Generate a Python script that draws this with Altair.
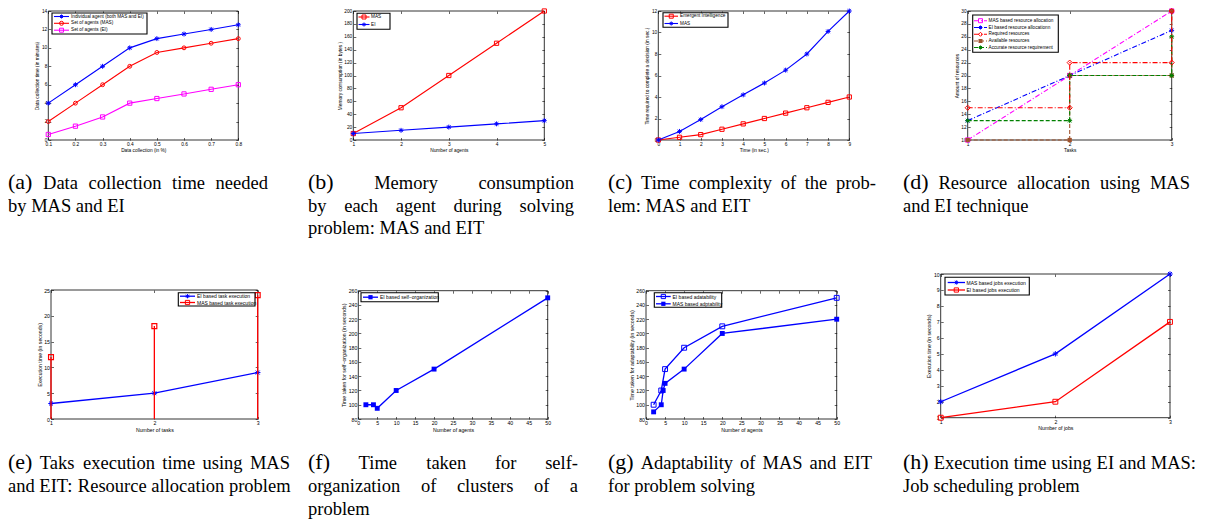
import altair as alt
import pandas as pd

# ---------------- data ----------------
a_x = [0.1, 0.2, 0.3, 0.4, 0.5, 0.6, 0.7, 0.8]
a_individual = [4, 6, 8, 10, 11, 11.5, 12, 12.5]
a_mas = [2, 4, 6, 8, 9.5, 10, 10.5, 11]
a_ei = [0.6, 1.5, 2.5, 4, 4.5, 5, 5.5, 6]
a_labels = ["Individual agent (both MAS and EI)", "Set of agents (MAS)", "Set of agents (EI)"]

b_x = [1, 2, 3, 4, 5]
b_mas = [10, 50, 100, 150, 200]
b_ei = [10, 15, 20, 25, 30]
b_labels = ["MAS", "EI"]

c_x = [0, 1, 2, 3, 4, 5, 6, 7, 8, 9]
c_ei = [0, 0.25, 0.5, 1, 1.5, 2, 2.5, 3, 3.5, 4]
c_mas = [0, 0.8, 1.9, 3.1, 4.2, 5.3, 6.5, 8, 10.1, 12]
c_labels = ["Emergent Intelligence", "MAS"]

d_x = [1, 2, 3]
d_mas = [10, 20, 30]
d_ei = [13, 20, 27]
d_required = [15, 22, 30]
d_available = [10, 20, 30]
d_accurate = [13, 20, 26]
d_labels = ["MAS based resource allocation", "EI based resource allocationn",
            "Required resources", "Available resources", "Accurate resource requirement"]

e_x = [1, 2, 3]
e_ei = [3, 5, 9]
e_mas = [12, 18, 24]
e_labels = ["EI based task execution", "MAS based task execution"]

f_x = [2, 4, 5, 10, 20, 50]
f_ei = [100, 100, 95, 120, 150, 250]
f_labels = ["EI based self\u2212organization"]

g_ei_x = [2, 4, 5, 10, 20, 50]
g_ei = [100, 120, 150, 180, 210, 250]
g_mas_x = [2, 4, 4.5, 5, 10, 20, 50]
g_mas = [90, 100, 120, 130, 150, 200, 220]
g_labels = ["EI based adatability", "MAS based adptability"]

h_x = [1, 2, 3]
h_mas = [2, 5, 10]
h_ei = [1, 2, 7]
h_labels = ["MAS based jobs execution", "EI based jobs execution"]

captions = {
    "a": ["(a) Data collection time needed", "by MAS and EI"],
    "b": ["(b) Memory consumption", "by each agent during solving", "problem: MAS and EIT"],
    "c": ["(c) Time complexity of the prob-", "lem: MAS and EIT"],
    "d": ["(d) Resource allocation using MAS", "and EI technique"],
    "e": ["(e) Taks execution time using MAS", "and EIT: Resource allocation problem"],
    "f": ["(f) Time taken for self-", "organization of clusters of a", "problem"],
    "g": ["(g) Adaptability of MAS and EIT", "for problem solving"],
    "h": ["(h) Execution time using EI and MAS:", "Job scheduling problem"],
}

# ---------------- style / layout ----------------
W, H = 1196, 512
M = 8
T = 2.5
STAR = "M0,-1L0,1M-1,0L1,0M-0.72,-0.72L0.72,0.72M-0.72,0.72L0.72,-0.72"
BLUE, RED, MAG, GRN, BRN = "#0000ff", "#ff0000", "#ff00ff", "#008000", "#a0522d"
DASHDOT = [5, 2, 1, 2]
DASHED = [4, 2]
SANS = "Liberation Sans"
SERIF = "Liberation Serif, Times New Roman, serif"


def panel(rect, xdom, ydom, xticks, yticks, xtitle, ytitle, fs, build, xfmt=".0f", yfmt=".0f"):
    x0, x1, y0, y1 = rect[0] - M, rect[1] - M, rect[2] - M, rect[3] - M
    sx = alt.Scale(domain=xdom, range=[x0, x1], nice=False, zero=False)
    sy = alt.Scale(domain=ydom, range=[y1, y0], nice=False, zero=False)
    fr = pd.DataFrame({"xa": [xdom[0]], "xb": [xdom[1]], "ya": [ydom[0]], "yb": [ydom[1]]})
    common = dict(tickSize=T, tickColor="black", tickWidth=0.6, domain=False, grid=False,
                  labelOverlap=False)
    lab = dict(labelFont=SANS, labelFontSize=fs, labelColor="black", labelPadding=1.5,
               labelFlush=False, titleFont=SANS, titleFontSize=fs, titleFontWeight="normal",
               titleColor="black", titlePadding=1.5)
    bottom = alt.Axis(orient="bottom", offset=y1 - T - H, values=xticks, title=xtitle,
                      format=xfmt, **common, **lab)
    left = alt.Axis(orient="left", offset=-(x0 + T), values=yticks, title=ytitle,
                    format=yfmt, **common, **lab)
    top = alt.Axis(orient="top", offset=-(y0 + T), values=xticks, labels=False, title=None, **common)
    right = alt.Axis(orient="right", offset=x1 - T - W, values=yticks, labels=False, title=None, **common)
    frame = alt.Chart(fr).mark_rect(filled=False, stroke="black", strokeWidth=0.8).encode(
        x=alt.X("xa:Q", scale=sx, axis=bottom), x2="xb",
        y=alt.Y("ya:Q", scale=sy, axis=left), y2="yb")
    mirror = alt.Chart(fr).mark_rect(filled=False, stroke="black", strokeOpacity=0).encode(
        x=alt.X("xa:Q", scale=sx, axis=top), x2="xb",
        y=alt.Y("ya:Q", scale=sy, axis=right), y2="yb")
    layers = [frame, mirror] + build(sx, sy)
    return alt.layer(*layers).resolve_axis(x="independent", y="independent")


def series(xs, ys, sx, sy, color, shape, msize, lw, dash=None, filled=False, interp=None, pts=None):
    df = pd.DataFrame({"x": xs, "y": ys})
    enc = dict(x=alt.X("x:Q", scale=sx, axis=None), y=alt.Y("y:Q", scale=sy, axis=None))
    lk = dict(color=color, strokeWidth=lw)
    if dash:
        lk["strokeDash"] = dash
    if interp:
        lk["interpolate"] = interp
    ln = alt.Chart(df).mark_line(**lk).encode(**enc)
    pdf = pts if pts is not None else df
    pt = alt.Chart(pdf).mark_point(shape=shape, color=color, filled=filled, size=msize,
                                   strokeWidth=1, opacity=1).encode(**enc)
    return [ln, pt]


def stair_pts(xs, vals):
    px, py = [], []
    for i, v in enumerate(vals):
        px.append(xs[i]); py.append(v)
        if i + 1 < len(xs):
            px.append(xs[i + 1]); py.append(v)
    return pd.DataFrame({"x": px, "y": py})


def legend(box, line, tx, rows, fs, labels, styles, lw, msize):
    one = pd.DataFrame({"k": [0]})
    layers = [alt.Chart(one).mark_rect(fill="white", stroke="black", strokeWidth=1.1).encode(
        x=alt.value(box[0] - M), x2=alt.value(box[1] - M),
        y=alt.value(box[2] - M), y2=alt.value(box[3] - M))]
    for label, (color, shape, dash, filled), yc in zip(labels, styles, rows):
        y = yc - M
        rk = dict(color=color, strokeWidth=lw)
        if dash:
            rk["strokeDash"] = dash
        layers.append(alt.Chart(one).mark_rule(**rk).encode(
            x=alt.value(line[0] - M), x2=alt.value(line[1] - M), y=alt.value(y)))
        layers.append(alt.Chart(one).mark_point(shape=shape, color=color, filled=filled, size=msize,
                                                strokeWidth=1, opacity=1).encode(
            x=alt.value((line[0] + line[1]) / 2 - M), y=alt.value(y)))
        layers.append(alt.Chart(one).mark_text(text=label, align="left", baseline="middle",
                                               font=SANS, fontSize=fs, color="black").encode(
            x=alt.value(tx - M), y=alt.value(y)))
    return alt.layer(*layers)


# ---------------- panels ----------------
F1, F2 = 4.8, 5.2
MS1, MS2 = 18, 24
LW1, LW2 = 1.1, 1.3

pa = panel((48.3, 238.3, 11, 140), [0.1, 0.8], [0, 14], a_x, list(range(0, 15, 2)),
           "Data collection (in %)", "Data collection time (in minutes)", F1,
           lambda sx, sy: series(a_x, a_individual, sx, sy, BLUE, STAR, 24, LW1)
           + series(a_x, a_mas, sx, sy, RED, "circle", 15, LW1)
           + series(a_x, a_ei, sx, sy, MAG, "square", MS1, LW1), xfmt=".1f")

pb = panel((353.3, 544.3, 11, 140), [1, 5], [0, 200], b_x, list(range(0, 201, 20)),
           "Number of agents", "Memory consumption (in bytes )", F1,
           lambda sx, sy: series(b_x, b_mas, sx, sy, RED, "square", MS1, LW1)
           + series(b_x, b_ei, sx, sy, BLUE, STAR, 24, LW1))

pc = panel((658.3, 849.3, 11, 140), [0, 9], [0, 12], c_x, list(range(0, 13, 2)),
           "Time (in sec.)", "Time required to complete a decision (in sec.)", F1,
           lambda sx, sy: series(c_x, c_ei, sx, sy, RED, "square", MS1, LW1)
           + series(c_x, c_mas, sx, sy, BLUE, STAR, 24, LW1))

pd_ = panel((967.7, 1171.7, 11, 140), [1, 3], [10, 30], [1.0, 2.0, 3.0], list(range(10, 31, 2)),
            "Tasks", "Amount of resources", F1,
            lambda sx, sy: series(d_x, d_mas, sx, sy, MAG, "square", MS1, LW1, dash=DASHDOT)
            + series(d_x, d_ei, sx, sy, BLUE, STAR, 24, LW1, dash=DASHDOT)
            + series(d_x, d_available, sx, sy, BRN, "square", MS1, LW1, dash=DASHED, filled=True,
                     interp="step-after", pts=stair_pts(d_x, d_available))
            + series(d_x, d_accurate, sx, sy, GRN, STAR, 24, LW1, dash=DASHED,
                     interp="step-after", pts=stair_pts(d_x, d_accurate))
            + series(d_x, d_required, sx, sy, RED, "diamond", 26, LW1, dash=DASHDOT,
                     interp="step-after", pts=stair_pts(d_x, d_required)))


def build_e(sx, sy):
    df = pd.DataFrame({"x": e_x, "y": e_mas, "base": [0] * len(e_x)})
    stems = alt.Chart(df).mark_rule(color=RED, strokeWidth=LW2).encode(
        x=alt.X("x:Q", scale=sx, axis=None), y=alt.Y("y:Q", scale=sy, axis=None), y2="base")
    tops = alt.Chart(df).mark_point(shape="square", color=RED, filled=False, size=MS2,
                                    strokeWidth=1.2, opacity=1).encode(
        x=alt.X("x:Q", scale=sx, axis=None), y=alt.Y("y:Q", scale=sy, axis=None))
    return series(e_x, e_ei, sx, sy, BLUE, STAR, 30, LW2) + [stems, tops]


pe = panel((51, 257.7, 290, 419), [1, 3], [0, 25], [1.0, 2.0, 3.0], list(range(0, 26, 5)),
           "Number of tasks", "Execution time (in seconds)", F2, build_e)

pf = panel((358.3, 547.7, 290.7, 419), [0, 50], [80, 260], list(range(0, 51, 5)),
           list(range(80, 261, 20)), "Number of agents",
           "Time taken for self\u2212organization (in seconds)", F2,
           lambda sx, sy: series(f_x, f_ei, sx, sy, BLUE, "square", MS2, LW2, filled=True))

pg = panel((646, 836.7, 290.7, 419), [0, 50], [80, 260], list(range(0, 51, 5)),
           list(range(80, 261, 20)), "Number of agents",
           "Time taken for adaptability (in seconds)", F2,
           lambda sx, sy: series(g_ei_x, g_ei, sx, sy, BLUE, "square", MS2, LW2)
           + series(g_mas_x, g_mas, sx, sy, BLUE, "square", MS2, LW2, filled=True))

ph = panel((940.7, 1170, 274, 417.7), [1, 3], [1, 10], [1.0, 2.0, 3.0], list(range(1, 11)),
           "Number of jobs", "Execution time  (in seconds)", F2,
           lambda sx, sy: series(h_x, h_mas, sx, sy, BLUE, STAR, 30, LW2)
           + series(h_x, h_ei, sx, sy, RED, "square", MS2, LW2))

# ---------------- legends ----------------
LF1, LF2 = 4.7, 5.0
la = legend((52, 147, 13, 34), (54, 69), 71, [16.5, 23.3, 30.2], LF1, a_labels,
            [(BLUE, STAR, None, False), (RED, "circle", None, False), (MAG, "square", None, False)],
            LW1, 16)
lb = legend((357, 390, 13.3, 29.3), (358.5, 369.5), 371, [17, 24.5], LF1, b_labels,
            [(RED, "square", None, False), (BLUE, STAR, None, False)], LW1, 16)
lc = legend((663, 728, 12.7, 27.3), (664.5, 678), 680, [16.2, 23.5], LF1, c_labels,
            [(RED, "square", None, False), (BLUE, STAR, None, False)], LW1, 16)
ld = legend((972.7, 1058.3, 15, 52.3), (974, 987), 988.5, [20.7, 27.5, 34.3, 41, 47.5], LF1, d_labels,
            [(MAG, "square", DASHDOT, False), (BLUE, STAR, DASHDOT, False), (RED, "diamond", DASHDOT, False),
             (BRN, "square", DASHED, True), (GRN, STAR, DASHED, False)], LW1, 16)
le = legend((178.3, 255, 292.7, 306), (180, 195), 197, [296.2, 302.5], LF2, e_labels,
            [(BLUE, STAR, None, False), (RED, "square", None, False)], LW2, 18)
lf = legend((361, 438.3, 292.7, 301.7), (363, 378), 380, [297.2], LF2, f_labels,
            [(BLUE, "square", None, True)], LW2, 18)
lg = legend((654.3, 721.7, 292.7, 307.3), (656, 670.7), 672.5, [296.5, 303.8], LF2, g_labels,
            [(BLUE, "square", None, False), (BLUE, "square", None, True)], LW2, 18)
lh = legend((945, 1029.3, 277.3, 295), (947.7, 965), 966.5, [282.5, 290], LF2, h_labels,
            [(BLUE, STAR, None, False), (RED, "square", None, False)], LW2, 18)

# ---------------- captions (justified) ----------------
TW = {" ": 250, "(": 333, ")": 333, ":": 278, "-": 333, ".": 250,
      "a": 444, "b": 500, "c": 444, "d": 500, "e": 444, "f": 333, "g": 500, "h": 500, "i": 278,
      "j": 278, "k": 500, "l": 278, "m": 778, "n": 500, "o": 500, "p": 500, "q": 500, "r": 333,
      "s": 389, "t": 278, "u": 500, "v": 500, "w": 722, "x": 500, "y": 500, "z": 444,
      "A": 722, "B": 667, "C": 667, "D": 722, "E": 611, "F": 556, "G": 722, "H": 722, "I": 333,
      "J": 389, "K": 722, "L": 611, "M": 889, "N": 722, "O": 722, "P": 556, "R": 667, "S": 556,
      "T": 611}
CF, CL = 18.5, 22


def tw(s, fs):
    return sum(TW.get(ch, 500) for ch in s) * fs / 1000.0


cap_layout = {
    "a": (8, 268, 189, 22.5), "b": (308, 574, 189, 22.5), "c": (608, 876, 189, 22.5),
    "d": (903, 1190, 189, 22.5),
    "e": (8, 290, 469, 23), "f": (308, 578, 469, 23), "g": (608, 872, 469, 23),
    "h": (903, 1196, 469, 23),
}
rows = []
for key, lines in captions.items():
    L, R, base, pitch = cap_layout[key]
    for li, line in enumerate(lines):
        words = line.split(" ")
        sizes = [CL if (li == 0 and wi == 0) else CF for wi in range(len(words))]
        widths = [tw(w, s) for w, s in zip(words, sizes)]
        if li < len(lines) - 1 and len(words) > 1:
            gap = (R - L - sum(widths)) / (len(words) - 1)
        else:
            gap = 0.25 * CF
        x = L
        for w, wd, s in zip(words, widths, sizes):
            rows.append({"word": w, "px": x - M, "py": base + li * pitch - M, "fs": s})
            x += wd + gap
cap_df = pd.DataFrame(rows)
caps = alt.Chart(cap_df).mark_text(align="left", baseline="alphabetic", font=SERIF, color="black").encode(
    x=alt.X("px:Q", scale=None), y=alt.Y("py:Q", scale=None), text="word:N",
    size=alt.Size("fs:Q", scale=None))

chart = alt.layer(pa, la, pb, lb, pc, lc, pd_, ld, pe, le, pf, lf, pg, lg, ph, lh, caps).resolve_scale(
    x="independent", y="independent"
).properties(
    width=W, height=H, padding=0, autosize=alt.AutoSizeParams(type="none")
).configure_view(stroke=None)

chart.save("out.html", embed_options={"renderer": "svg", "actions": False})
